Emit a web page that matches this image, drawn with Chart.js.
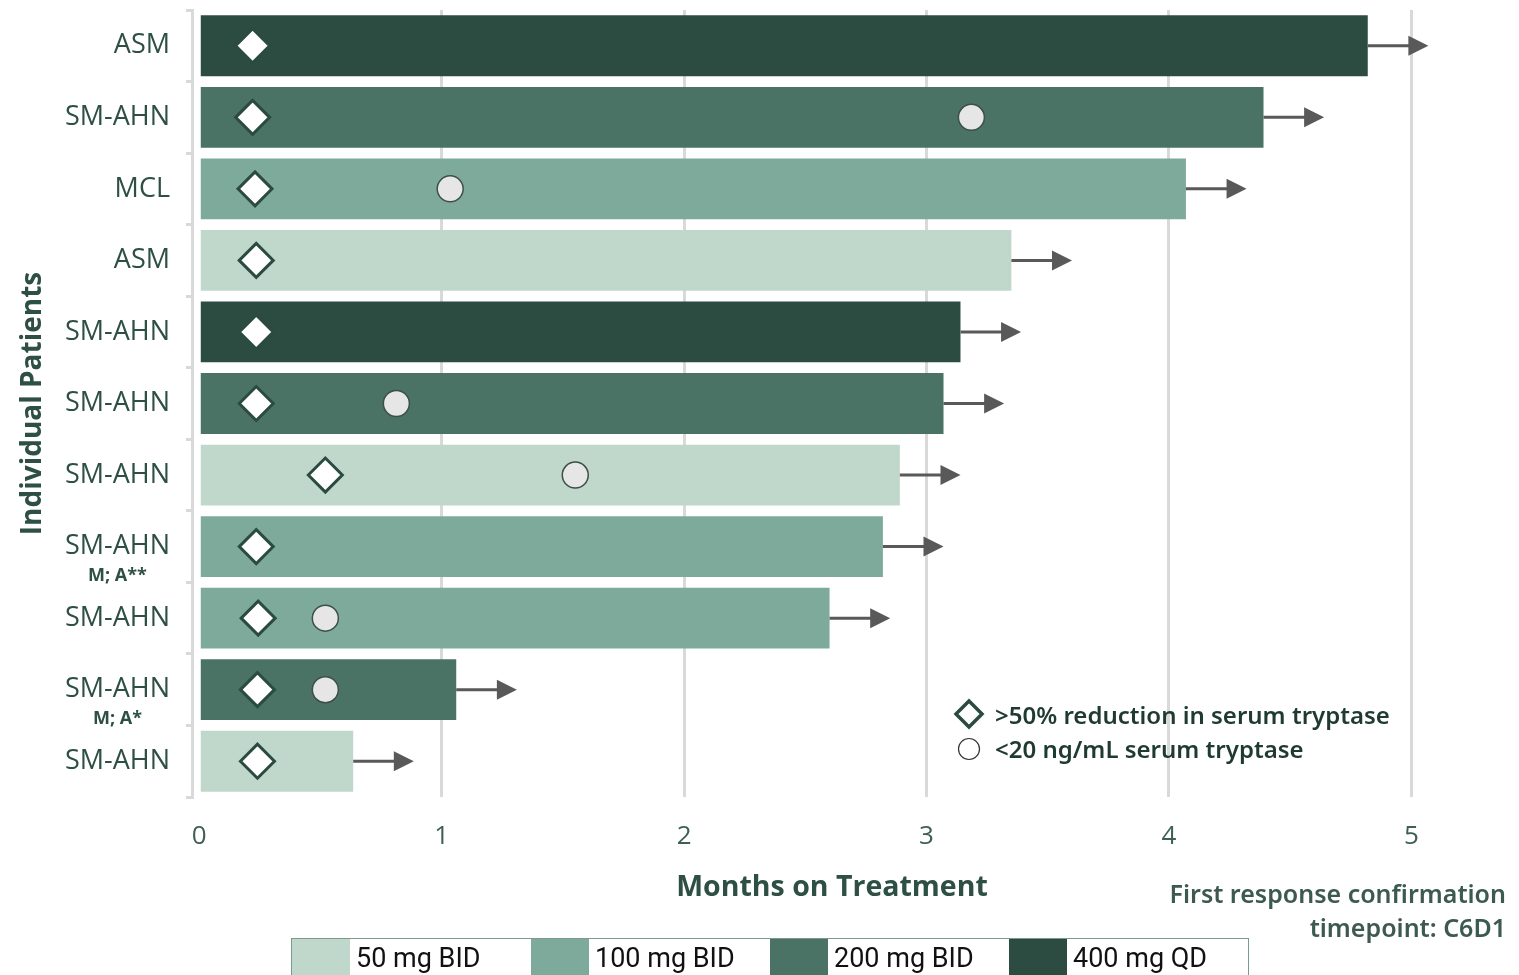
<!DOCTYPE html>
<html>
<head>
<meta charset="utf-8">
<script src="https://cdn.jsdelivr.net/npm/chart.js@4.4.1/dist/chart.umd.min.js"></script>
<style>
  body { margin: 0; background: #fff; }
  #wrap { position: relative; width: 1519px; height: 975px; overflow: hidden; font-family: 'Open Sans', sans-serif; }
  #c { position: absolute; left: 0; top: 0; }
  #markerLegend { position: absolute; left: 953px; top: 697px; color: #1f3a32; font-family: 'Noto Sans', sans-serif; font-weight: 600; font-size: 24px; }
  #markerLegend div { height: 34px; display: flex; align-items: center; white-space: nowrap; }
  #markerLegend svg { margin-right: 10px; }
  #note { position: absolute; right: 13px; top: 876px; text-align: right; color: #3d5a50; font-family: 'Noto Sans', sans-serif; font-weight: 600; font-size: 25px; line-height: 34px; }
  #doseLegend { position: absolute; left: 291px; top: 938px; width: 958px; height: 60px; border: 1.5px solid #7a9a8f; display: flex; box-sizing: border-box; }
  #doseLegend .item { width: 240px; display: flex; height: 100%; }
  #doseLegend .sw { width: 58px; height: 100%; }
  #doseLegend .tx { padding-left: 6px; font-family: 'Liberation Sans Narrow', Roboto, sans-serif; font-size: 27px; color: #111; line-height: 38px; }
</style>
</head>
<body>
<div id="wrap">
  <canvas id="c" width="1519" height="975"></canvas>
  <div id="markerLegend"></div>
  <div id="note">First response confirmation<br>timepoint: C6D1</div>
  <div id="doseLegend"></div>
</div>
<script>
const patients = ['ASM', 'SM-AHN', 'MCL', 'ASM', 'SM-AHN', 'SM-AHN', 'SM-AHN', 'SM-AHN', 'SM-AHN', 'SM-AHN', 'SM-AHN'];
const subLabels = ['', '', '', '', '', '', '', 'M; A**', '', 'M; A*', ''];
const months = [4.82, 4.39, 4.07, 3.35, 3.14, 3.07, 2.89, 2.82, 2.60, 1.06, 0.635];
const patientDose = [3, 2, 1, 0, 3, 2, 0, 1, 1, 2, 0];
// >50% reduction, month per patient
const diamondX = [0.22, 0.22, 0.23, 0.235, 0.235, 0.235, 0.52, 0.235, 0.243, 0.24, 0.24];
// <20 ng/mL, month per patient (null = not reached)
const circleX = [null, 3.185, 1.035, null, null, 0.813, 1.551, null, 0.52, 0.52, null];

const doses = ['50 mg BID', '100 mg BID', '200 mg BID', '400 mg QD'];
const doseColors = ['#c0d7cc', '#7eaa9c', '#4a7265', '#2c4c42'];
const markerLabels = ['>50% reduction in serum tryptase', '<20 ng/mL serum tryptase'];
const arrowLen = 0.25; // months

const txtColor = '#2e4f44';

// arrows + sub labels
const extras = {
    id: 'extras',
    afterDatasetsDraw(chart) {
        const ctx = chart.ctx;
        const x = chart.scales.x, y = chart.scales.y;
        ctx.save();
        ctx.strokeStyle = '#595959';
        ctx.fillStyle = '#595959';
        ctx.lineWidth = 3;
        months.forEach((m, i) => {
            const x0 = x.getPixelForValue(m);
            const x1 = x.getPixelForValue(m + arrowLen);
            const yc = y.getPixelForValue(i);
            ctx.beginPath();
            ctx.moveTo(x0, yc);
            ctx.lineTo(x1 - 18, yc);
            ctx.stroke();
            ctx.beginPath();
            ctx.moveTo(x1, yc);
            ctx.lineTo(x1 - 20, yc - 10);
            ctx.lineTo(x1 - 20, yc + 10);
            ctx.closePath();
            ctx.fill();
        });
        ctx.restore();
    },
    afterDraw(chart) {
        const ctx = chart.ctx;
        const y = chart.scales.y;
        const right = y.right - 6 - 16;
        ctx.save();
        ctx.textAlign = 'center';
        ctx.textBaseline = 'middle';
        subLabels.forEach((s, i) => {
            if (!s) return;
            ctx.font = '27px "Open Sans"';
            const w = ctx.measureText(patients[i]).width;
            ctx.font = 'bold 18px "Open Sans"';
            ctx.fillStyle = txtColor;
            ctx.fillText(s, right - w / 2, y.getPixelForValue(i) + 29);
        });
        ctx.restore();
    }
};

new Chart(document.getElementById('c'), {
    type: 'bar',
    data: {
        labels: patients,
        datasets: [
        {
            type: 'line',
            order: 0,
            indexAxis: 'y',
            showLine: false,
            data: circleX,
            pointStyle: 'circle',
            pointRadius: 13,
            pointBackgroundColor: '#e6e6e6',
            pointBorderColor: '#3d4f48',
            pointBorderWidth: 1.5
        },
        {
            type: 'line',
            order: 1,
            indexAxis: 'y',
            showLine: false,
            data: diamondX,
            pointStyle: 'rectRot',
            pointRadius: 17,
            pointBackgroundColor: '#ffffff',
            pointBorderColor: '#2b4b40',
            pointBorderWidth: 3
        },
        {
            type: 'bar',
            order: 3,
            indexAxis: 'y',
            data: months,
            backgroundColor: patientDose.map(d => doseColors[d]),
            barPercentage: 0.85,
            categoryPercentage: 1
        }]
    },
    options: {
        indexAxis: 'y',
        responsive: false,
        animation: false,
        layout: { autoPadding: false, padding: { top: 10, right: 47, bottom: 76, left: 0 } },
        plugins: { legend: { display: false }, tooltip: { enabled: false } },
        scales: {
            x: {
                type: 'linear',
                min: -0.03,
                max: 5.25,
                grid: {
                    color: c => (c.tick && c.tick.value === 0) ? 'rgba(0,0,0,0)' : '#d9d9d9',
                    lineWidth: 3,
                    drawTicks: false
                },
                border: { display: false },
                ticks: { stepSize: 1, includeBounds: false, padding: 24, color: '#3f5f55', font: { family: 'Open Sans', size: 26 } },
                title: { display: true, text: 'Months on Treatment', color: txtColor, font: { family: 'Open Sans', size: 28.5, weight: 'bold', lineHeight: 0.8 }, padding: 0 }
            },
            y: {
                type: 'category',
                offset: true,
                grid: { offset: true, drawOnChartArea: false, color: '#d9d9d9', lineWidth: 3, tickLength: 6 },
                border: { color: '#d9d9d9', width: 3 },
                ticks: { padding: 16, color: txtColor, font: { family: 'Open Sans', size: 27 } },
                title: { display: true, text: 'Individual Patients', color: txtColor, font: { family: 'Open Sans', size: 28, weight: 'bold' }, padding: { top: 16, bottom: 0 } },
                afterFit: s => { s.width = 192; s.paddingTop = 0; s.paddingBottom = 0; }
            }
        }
    },
    plugins: [extras]
});

// marker legend
const icons = [
    '<svg width="32" height="32"><polygon points="16,3 29,16 16,29 3,16" fill="#fff" stroke="#2b4b40" stroke-width="3.5"/></svg>',
    '<svg width="32" height="32"><circle cx="16" cy="17" r="10.5" fill="#fff" stroke="#333" stroke-width="1.2"/></svg>'
];
const ml = document.getElementById('markerLegend');
markerLabels.forEach((t, i) => {
    const row = document.createElement('div');
    row.innerHTML = icons[i];
    const s = document.createElement('span');
    s.textContent = t;
    row.appendChild(s);
    ml.appendChild(row);
});

// dose legend
const dl = document.getElementById('doseLegend');
doses.forEach((d, i) => {
    const it = document.createElement('div');
    it.className = 'item';
    const sw = document.createElement('div');
    sw.className = 'sw';
    sw.style.background = doseColors[i];
    const tx = document.createElement('div');
    tx.className = 'tx';
    tx.textContent = d;
    it.appendChild(sw);
    it.appendChild(tx);
    dl.appendChild(it);
});
</script>
</body>
</html>
